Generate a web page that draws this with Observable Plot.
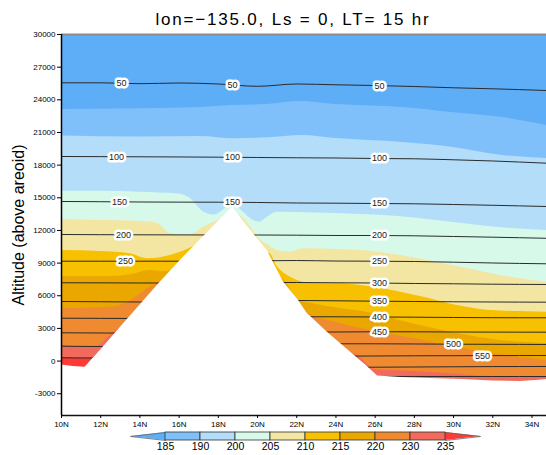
<!DOCTYPE html>
<html><head><meta charset="utf-8">
<script src="https://cdn.jsdelivr.net/npm/d3@7"></script>
<script src="https://cdn.jsdelivr.net/npm/@observablehq/plot@0.6"></script>
<style>
html,body{margin:0;padding:0;background:#fff;}
#wrap{position:relative;width:546px;height:455px;overflow:hidden;font-family:"Liberation Sans",Arial,sans-serif;}
#title{position:absolute;left:0;top:10px;width:586px;text-align:center;font-size:17px;line-height:20px;letter-spacing:1.8px;color:#000;white-space:nowrap;}
#main{position:absolute;left:0;top:0;}
#cbar{position:absolute;left:0;top:428px;}
</style></head><body>
<div id="wrap"><div id="main"></div><div id="title"></div><div id="cbar"></div></div>
<script>
// ---------- texts & ticks ----------
const titleText = "lon=\u2212135.0, Ls = 0, LT= 15 hr";
const yLabel = "Altitude (above areoid)";
const latTicks = [10, 12, 14, 16, 18, 20, 22, 24, 26, 28, 30, 32, 34];
const altTicks = [-3000, 0, 3000, 6000, 9000, 12000, 15000, 18000, 21000, 24000, 27000, 30000];
const latDomain = [10, 34.74];
const altDomain = [-5000, 30000];

// ---------- temperature classes (colour bar) ----------
const levelColors = ["#5dadf7", "#80c0fa", "#b3ddf9", "#d6f9ea", "#f2e6a2", "#f7c000", "#e9a700", "#ef8a30", "#f26a5c", "#fe3a34"];
const levelBounds = ["185", "190", "200", "205", "210", "215", "220", "230", "235"];

// ---------- shaded boundaries (altitude of each temperature boundary vs latitude) ----------
const b185Lat = [10, 13, 17.1, 18.7, 20.5, 22.1, 24, 27.4, 29.9, 32.5, 34.74];
const b185Alt = [23110, 23156, 23294, 23478, 23570, 23845, 23570, 23294, 22835, 22376, 21641];
const b190Lat = [10, 14, 17.1, 18.8, 20.5, 22.3, 24, 27.4, 29.9, 32.5, 34.74];
const b190Alt = [20676, 20584, 20630, 20419, 20511, 20722, 20447, 20079, 19647, 18885, 18609];
const b200Lat = [10, 12, 14, 16, 16.5, 17.3, 17.8, 18.3, 18.72, 19.3, 19.7, 20.1, 20.5, 21, 22, 24, 26, 28, 30, 32, 34.74];
const b200Alt = [15606, 15606, 15514, 15348, 15027, 13649, 13419, 13924, 14384, 13649, 13006, 12758, 13217, 13676, 13649, 13557, 13419, 13144, 12730, 12317, 11995];
const b205Lat = [10, 12, 14, 14.88, 15.56, 16.41, 17.43, 17.9, 18.3, 18.72, 19.39, 19.73, 20.15, 20.5, 21, 21.68, 22.36, 24, 25.26, 27.81, 30.36, 32.91, 34.74];
const b205Alt = [12978, 12914, 12822, 12666, 11692, 11536, 12455, 12822, 13190, 13557, 12900, 12100, 11100, 10700, 10158, 10002, 10314, 10250, 10158, 9543, 8624, 7706, 7246];
const b210Lat = [10, 12, 13.5, 14.4, 15.56, 17, 17.6, 18.72, 20.6, 21, 21.7, 22.8, 24.23, 25.9, 28.47, 30.19, 31.89, 34.74];
const b210Alt = [10158, 10066, 9855, 9396, 9699, 10774, 11444, 9000, 9900, 8700, 7678, 7127, 7100, 6787, 5868, 5106, 4647, 4490];
const b215Lat = [10, 12.5, 13.6, 14.5, 15.3, 16, 18.72, 21.2, 22.1, 22.5, 24.23, 25.92, 27.65, 30.2, 32.4, 34.74];
const b215Alt = [7770, 7770, 7954, 8321, 8200, 8500, 8000, 7600, 5565, 5382, 4830, 4371, 3544, 2534, 1891, 1615];
const b220Lat = [10, 12.5, 13.4, 14.5, 15.2, 18.72, 22.3, 22.6, 24.23, 28.47, 31.89, 34.74];
const b220Alt = [4830, 4949, 5409, 6759, 7300, 6000, 5000, 4371, 3452, 1891, 697, 54];
const b230Lat = [10, 11.7, 12.5, 13, 13.4, 18.72, 25, 26, 28, 30, 31.5, 32.5, 34.74];
const b230Alt = [1432, 1275, 2350, 3113, 3300, 2000, 605, -773, -957, -1187, -1416, -1508, -1416];
const b235Lat = [10, 11.5, 11.9, 12.5, 18.72, 25, 26.2, 34.74];
const b235Alt = [357, 237, 789, 1200, 500, -500, -1800, -2500];

// ---------- topography ----------
const topoLat = [10, 10.6, 11.2, 12, 13, 14, 15, 16, 17, 18, 18.72, 19.2, 19.73, 20.49, 21.33, 22.09, 22.54, 23.56, 24.23, 25, 25.6, 26.12, 27.3, 28.8, 30.5, 32, 33.4, 34.2, 34.74];
const topoAlt = [-360, -498, -562, 1027, 3076, 5124, 7173, 9129, 10976, 12822, 14154, 13033, 11839, 10158, 7246, 5565, 4371, 2653, 1615, 421, -498, -1370, -1508, -1600, -1692, -1830, -1875, -1784, -1692];

// ---------- pressure contours ----------
const lineLats = [10, 12, 14, 16, 18, 20, 22, 24, 26, 28, 30, 32, 34.74];
const p50  = [25563, 25563, 25480, 25545, 25453, 25242, 25453, 25379, 25315, 25223, 25104, 25012, 24856];
const p100 = [18793, 18780, 18765, 18750, 18729, 18702, 18674, 18655, 18609, 18582, 18490, 18380, 18178];
const p150 = [14659, 14640, 14613, 14600, 14595, 14568, 14522, 14503, 14476, 14448, 14384, 14311, 14200];
const p200 = [11628, 11610, 11600, 11590, 11582, 11582, 11564, 11536, 11536, 11508, 11444, 11380, 11279];
const p250 = [9175, 9175, 9175, 9175, 9175, 9200, 9236, 9190, 9175, 9148, 9084, 9010, 8937];
const p300 = [7191, 7185, 7173, 7173, 7173, 7200, 7219, 7191, 7173, 7127, 7099, 7062, 7035];
const p350 = [5473, 5450, 5427, 5427, 5450, 5500, 5565, 5537, 5501, 5473, 5446, 5427, 5409];
const p400 = [3939, 3925, 3912, 3912, 3950, 4000, 4068, 4068, 4050, 4031, 4004, 3985, 3976];
const p450 = [2598, 2580, 2561, 2561, 2600, 2650, 2671, 2671, 2690, 2690, 2671, 2662, 2653];
const p500 = [1367, 1340, 1340, 1400, 1450, 1500, 1560, 1588, 1588, 1570, 1551, 1542, 1524];
const p550 = [301, 283, 283, 300, 350, 400, 430, 448, 467, 485, 494, 504, 513];
const p600 = [null, null, null, null, null, null, null, -580, -562, -544, -525, -507, -498];
const p650 = [null, null, null, null, null, null, null, -1420, -1416, -1416, -1416, -1416, -1416];
const pLevels = [50, 100, 150, 200, 250, 300, 350, 400, 450, 500, 550, 600, 650];
const pAlts = [p50, p100, p150, p200, p250, p300, p350, p400, p450, p500, p550, p600, p650];

// contour labels
const labelLat = [13.06, 18.72, 26.22, 12.8, 18.72, 26.22, 12.96, 18.72, 26.22, 13.16, 26.22, 13.27, 26.22, 26.22, 26.22, 26.22, 26.22, 30.0, 31.48];
const labelLevel = [50, 50, 50, 100, 100, 100, 150, 150, 150, 200, 200, 250, 250, 300, 350, 400, 450, 500, 550];

// ---------- build tables ----------
const toRows = (lat, alt) => lat.map((x, i) => ({lat: x, alt: alt[i]}));
const bands = [
  [b185Lat, b185Alt], [b190Lat, b190Alt], [b200Lat, b200Alt], [b205Lat, b205Alt], [b210Lat, b210Alt],
  [b215Lat, b215Alt], [b220Lat, b220Alt], [b230Lat, b230Alt], [b235Lat, b235Alt]
].map(([la, al], i) => ({rows: toRows(la, al), fill: levelColors[i + 1]}));
const topo = toRows(topoLat, topoAlt);
const lineRows = pLevels.flatMap((lv, k) => lineLats.map((lat, i) => ({level: lv, lat, alt: pAlts[k][i]})));
function altOn(level, lat) {
  const arr = pAlts[pLevels.indexOf(level)];
  for (let i = 0; i < lineLats.length - 1; i++) {
    if (lat >= lineLats[i] && lat <= lineLats[i + 1]) {
      const t = (lat - lineLats[i]) / (lineLats[i + 1] - lineLats[i]);
      return arr[i] + t * (arr[i + 1] - arr[i]);
    }
  }
  return arr[arr.length - 1];
}
const labelRows = labelLat.map((lat, i) => ({lat, alt: altOn(labelLevel[i], lat), text: String(labelLevel[i])}));

const yMin = altDomain[0], yMax = altDomain[1];

const main = Plot.plot({
  width: 546, height: 432,
  marginTop: 34, marginBottom: 17, marginLeft: 61, marginRight: 0,
  style: {fontFamily: "Liberation Sans, Arial, sans-serif", background: "white", color: "black"},
  x: {domain: latDomain},
  y: {domain: altDomain},
  marks: [
    Plot.frame({fill: levelColors[0], stroke: "none"}),
    ...bands.map(b => Plot.areaY(b.rows, {x: "lat", y1: yMin, y2: "alt", fill: b.fill, curve: "monotone-x"})),
    Plot.line(lineRows, {x: "lat", y: "alt", z: "level", stroke: "#2b2b2b", strokeWidth: 1, curve: "monotone-x"}),
    Plot.areaY(topo, {x: "lat", y1: yMin, y2: "alt", fill: "white"}),
    Plot.text(labelRows, {x: "lat", y: "alt", text: "text", fontSize: 9, fill: "#222", stroke: "white", strokeWidth: 5}),
    Plot.ruleY([yMax], {stroke: "#8c8c8c", strokeWidth: 2}),
    Plot.ruleX([latDomain[0]], {stroke: "#000", strokeWidth: 1.5}),
    Plot.ruleY([yMin], {stroke: "#111", strokeWidth: 1.5}),
    Plot.axisX({ticks: latTicks, tickFormat: d => d + "N", tickSize: 3, tickPadding: 3, fontSize: 8, label: null}),
    Plot.axisY({ticks: altTicks, tickFormat: d => String(d), tickSize: 4, tickPadding: 2, fontSize: 8, label: null}),
    Plot.text([yLabel], {frameAnchor: "left", textAnchor: "middle", rotate: -90, dx: -43, fontSize: 16})
  ]
});
document.getElementById("main").append(main);
document.getElementById("title").textContent = titleText;

// ---------- colour bar ----------
const cbBoxes = d3.range(1, 9).map(i => ({x1: i, x2: i + 1, fill: levelColors[i]}));
const leftTri = [{x: 0, lo: 0.5, hi: 0.5}, {x: 1, lo: 0, hi: 1}];
const rightTri = [{x: 9, lo: 0, hi: 1}, {x: 10, lo: 0.5, hi: 0.5}];
const cbLabels = levelBounds.map((t, i) => ({x: i + 1, text: t}));
const cbar = Plot.plot({
  width: 546, height: 27,
  marginLeft: 130, marginRight: 66, marginTop: 4, marginBottom: 15,
  style: {fontFamily: "Liberation Sans, Arial, sans-serif", background: "transparent", color: "black"},
  x: {domain: [0, 10], axis: null},
  y: {domain: [0, 1], axis: null},
  color: {type: "identity"},
  marks: [
    Plot.areaY(leftTri, {x: "x", y1: "lo", y2: "hi", fill: levelColors[0]}),
    Plot.areaY(rightTri, {x: "x", y1: "lo", y2: "hi", fill: levelColors[9]}),
    Plot.line([{x: 1, y: 0}, {x: 0, y: 0.5}, {x: 1, y: 1}], {x: "x", y: "y", stroke: "#666", strokeWidth: 0.8}),
    Plot.line([{x: 9, y: 0}, {x: 10, y: 0.5}, {x: 9, y: 1}], {x: "x", y: "y", stroke: "#666", strokeWidth: 0.8}),
    Plot.rect(cbBoxes, {x1: "x1", x2: "x2", y1: 0, y2: 1, fill: "fill", stroke: "#333", strokeWidth: 0.8}),
    Plot.text(cbLabels, {x: "x", y: 0, text: "text", lineAnchor: "top", dy: 2.5, fontSize: 10.5})
  ]
});
document.getElementById("cbar").append(cbar);
</script></body></html>
